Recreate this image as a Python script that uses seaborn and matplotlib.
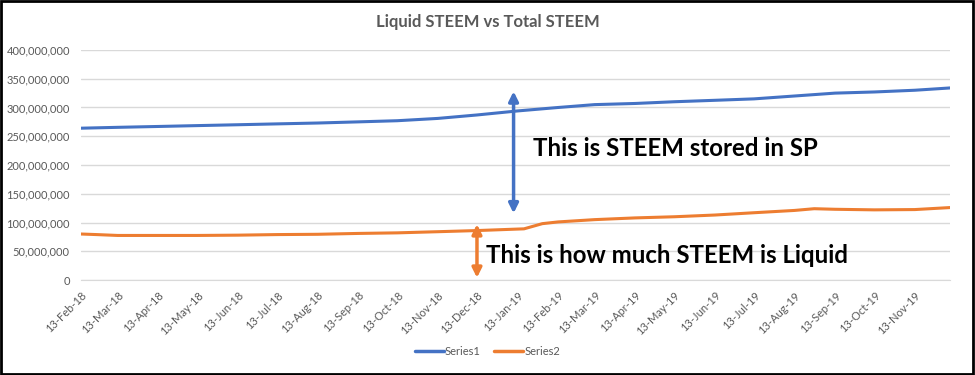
import matplotlib.pyplot as plt
import matplotlib.dates as mdates
import pandas as pd
import seaborn as sns
from matplotlib.patches import Rectangle
from matplotlib.ticker import FuncFormatter

sns.set_style("white")
plt.rcParams['font.family'] = ['Lato', 'DejaVu Sans']

# total STEEM (Series1), in millions
total_dates = ['2018-02-13', '2018-03-13', '2018-04-13', '2018-05-13', '2018-06-13',
               '2018-07-13', '2018-08-13', '2018-09-13', '2018-10-13', '2018-11-13',
               '2018-12-13', '2019-01-13', '2019-02-13', '2019-03-13', '2019-04-13',
               '2019-05-13', '2019-06-13', '2019-07-13', '2019-08-13', '2019-09-13',
               '2019-10-13', '2019-11-13', '2019-12-10']
total_vals = [264, 265.5, 267, 268.5, 270, 271.5, 273, 275, 277, 281,
              287, 294, 300, 305, 307, 310, 312.5, 315, 320, 325,
              327, 330, 334]

# liquid STEEM (Series2), in millions
liquid_dates = ['2018-02-13', '2018-02-25', '2018-03-13', '2018-04-13', '2018-05-13',
                '2018-06-13', '2018-07-13', '2018-08-13', '2018-09-13', '2018-10-13',
                '2018-11-13', '2018-12-13', '2019-01-18', '2019-02-01', '2019-02-13',
                '2019-03-13', '2019-04-13', '2019-05-13', '2019-06-13', '2019-07-13',
                '2019-08-13', '2019-08-28', '2019-09-13', '2019-10-13', '2019-11-13',
                '2019-12-10']
liquid_vals = [80, 79, 77.5, 77.5, 77.5, 78, 79, 79.5, 81, 82,
               84, 86, 89, 98, 101, 105, 108, 110, 113, 117,
               121, 124, 123, 122, 122.5, 126]

tick_dates = ['2018-02-13', '2018-03-13', '2018-04-13', '2018-05-13', '2018-06-13',
              '2018-07-13', '2018-08-13', '2018-09-13', '2018-10-13', '2018-11-13',
              '2018-12-13', '2019-01-13', '2019-02-13', '2019-03-13', '2019-04-13',
              '2019-05-13', '2019-06-13', '2019-07-13', '2019-08-13', '2019-09-13',
              '2019-10-13', '2019-11-13']
y_ticks = [0, 50e6, 100e6, 150e6, 200e6, 250e6, 300e6, 350e6, 400e6]

df1 = pd.DataFrame({'date': pd.to_datetime(total_dates), 'value': [v * 1e6 for v in total_vals]})
df1['series'] = 'Series1'
df2 = pd.DataFrame({'date': pd.to_datetime(liquid_dates), 'value': [v * 1e6 for v in liquid_vals]})
df2['series'] = 'Series2'
df = pd.concat([df1, df2])

blue = '#4472C4'
orange = '#ED7D31'
grey = '#595959'

fig = plt.figure(figsize=(9.75, 3.75), dpi=100)
ax = fig.add_axes([0.083, 0.2533, 0.8915, 0.6134])
sns.lineplot(data=df, x='date', y='value', hue='series', palette=[blue, orange],
             linewidth=2.2, ax=ax, legend=False)

ax.set_xlim(pd.Timestamp('2018-02-13'), pd.Timestamp('2019-12-10'))
ax.set_ylim(0, 400e6)
ax.set_yticks(y_ticks)
ax.yaxis.set_major_formatter(FuncFormatter(lambda v, p: f'{int(v):,}'))
ax.set_xticks(pd.to_datetime(tick_dates))
ax.xaxis.set_major_formatter(mdates.DateFormatter('%d-%b-%y'))
ax.grid(axis='y', color='#d9d9d9', linewidth=1)
ax.set_axisbelow(True)
for s in ['left', 'right', 'top']:
    ax.spines[s].set_visible(False)
ax.spines['bottom'].set_color('#d9d9d9')
ax.tick_params(axis='y', length=0, labelsize=8, labelcolor=grey, pad=8)
ax.tick_params(axis='x', length=5, color='#d9d9d9', labelsize=8, labelcolor=grey, pad=2)
plt.setp(ax.get_xticklabels(), rotation=45, ha='right', rotation_mode='anchor')
ax.set_xlabel('')
ax.set_ylabel('')

# double arrows + notes
ax.annotate('', xy=(pd.Timestamp('2019-01-10'), 328e6), xytext=(pd.Timestamp('2019-01-10'), 116e6),
            arrowprops=dict(arrowstyle='<|-|>', color=blue, lw=2.5, mutation_scale=14,
                            shrinkA=0, shrinkB=0))
ax.annotate('', xy=(pd.Timestamp('2018-12-13'), 97e6), xytext=(pd.Timestamp('2018-12-13'), 4e6),
            arrowprops=dict(arrowstyle='<|-|>', color=orange, lw=2.5, mutation_scale=14,
                            shrinkA=0, shrinkB=0))
ax.text(pd.Timestamp('2019-01-25'), 229e6, 'This is STEEM stored in SP',
        fontsize=17.3, fontweight='bold', color='black', va='center', ha='left')
ax.text(pd.Timestamp('2018-12-20'), 43e6, 'This is how much STEEM is Liquid',
        fontsize=17.3, fontweight='bold', color='black', va='center', ha='left')

fig.text(0.5, 0.94, 'Liquid STEEM vs Total STEEM', ha='center', va='center',
         fontsize=12, fontweight='bold', color=grey)

handles = [plt.Line2D([], [], color=blue, lw=2.5), plt.Line2D([], [], color=orange, lw=2.5)]
fig.legend(handles, ['Series1', 'Series2'], loc='center', bbox_to_anchor=(0.5, 0.062),
           ncol=2, frameon=False, fontsize=8, handlelength=2.6, handletextpad=0.1,
           columnspacing=1.2, labelcolor=grey)

fig.patches.append(Rectangle((0.001, 0.002), 0.997, 0.995, transform=fig.transFigure,
                             fill=False, edgecolor='black', linewidth=2))

fig.savefig('out.png', dpi=100)
